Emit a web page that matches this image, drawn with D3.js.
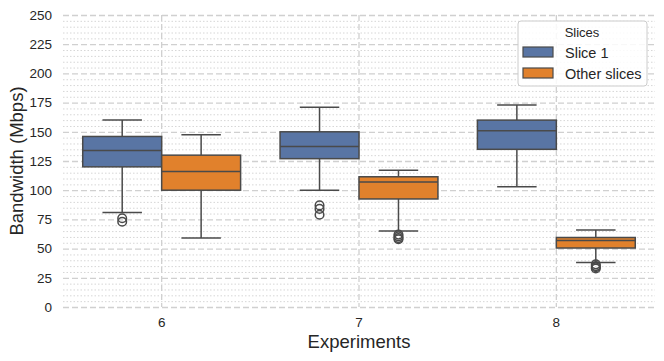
<!DOCTYPE html>
<html>
<head>
<meta charset="utf-8">
<script src="https://cdn.jsdelivr.net/npm/d3@7"></script>
<style>
  body { margin: 0; background: #fff; }
  text { font-family: "Liberation Sans", Arial, sans-serif; fill: #262626; }
</style>
</head>
<body>
<script>
// data
let experiments = ["6", "7", "8"];
let slices = ["Slice 1", "Other slices"];
let yTicks = [0, 25, 50, 75, 100, 125, 150, 175, 200, 225, 250];

// [whiskerLow, q1, median, q3, whiskerHigh] per experiment
let slice1Stats = [
    [81, 120, 134, 146, 160],
    [100, 127, 137.5, 150, 171],
    [103, 135, 151, 160, 173]
];
let otherStats = [
    [59, 100, 116, 130, 147.5],
    [65, 92.5, 107, 111.5, 117],
    [38, 50.5, 57, 59.5, 66]
];
let slice1Outliers = [[76, 73], [87, 84, 79], []];
let otherOutliers = [[], [62, 60.5, 59, 58], [36.5, 35, 34, 33]];

let colors = ["#5975a4", "#e1812c"];

let width = 664,
    height = 361,
    margin = {top: 15, right: 9, bottom: 54, left: 63};

const svg = d3.select("body")
    .append("svg")
    .attr("width", width)
    .attr("height", height);

const xScale = d3.scaleBand()
    .domain(experiments)
    .range([margin.left, width - margin.right]);

const hueScale = d3.scaleBand()
    .domain(slices)
    .range([0, xScale.bandwidth() * 0.8]);

const yScale = d3.scaleLinear()
    .domain([0, 250])
    .range([height - margin.bottom, margin.top]);

// minor grid (dotted)
svg.append("g")
    .selectAll("line")
    .data(d3.range(0, 251, 5).filter(v => v % 25 !== 0))
    .enter()
    .append("line")
    .attr("x1", margin.left)
    .attr("x2", width - margin.right)
    .attr("y1", d => yScale(d) + 0.5)
    .attr("y2", d => yScale(d) + 0.5)
    .attr("stroke", "#d6d6d6")
    .attr("stroke-width", 1)
    .attr("stroke-dasharray", "1.5,2");

// major grid (dashed)
svg.append("g")
    .selectAll("line")
    .data(yTicks)
    .enter()
    .append("line")
    .attr("x1", margin.left)
    .attr("x2", width - margin.right)
    .attr("y1", d => yScale(d) + 0.5)
    .attr("y2", d => yScale(d) + 0.5)
    .attr("stroke", "#d0d0d0")
    .attr("stroke-width", 1.3)
    .attr("stroke-dasharray", "6,3");

svg.append("g")
    .selectAll("line")
    .data(experiments)
    .enter()
    .append("line")
    .attr("x1", d => xScale(d) + xScale.bandwidth() / 2)
    .attr("x2", d => xScale(d) + xScale.bandwidth() / 2)
    .attr("y1", margin.top)
    .attr("y2", height - margin.bottom)
    .attr("stroke", "#d0d0d0")
    .attr("stroke-width", 1.3)
    .attr("stroke-dasharray", "6,3");

// boxes
const lineColor = "#4a4a4a";
[slice1Stats, otherStats].forEach((stats, s) => {
    const outliers = s === 0 ? slice1Outliers : otherOutliers;
    const g = svg.append("g");
    stats.forEach((st, i) => {
        const x0 = xScale(experiments[i]) + xScale.bandwidth() * 0.1 + hueScale(slices[s]);
        const bw = hueScale.bandwidth();
        const cx = x0 + bw / 2;
        // whiskers
        g.append("line")
            .attr("x1", cx).attr("x2", cx)
            .attr("y1", yScale(st[0])).attr("y2", yScale(st[1]))
            .attr("stroke", lineColor).attr("stroke-width", 1.5);
        g.append("line")
            .attr("x1", cx).attr("x2", cx)
            .attr("y1", yScale(st[3])).attr("y2", yScale(st[4]))
            .attr("stroke", lineColor).attr("stroke-width", 1.5);
        [st[0], st[4]].forEach(v => {
            g.append("line")
                .attr("x1", cx - bw / 4).attr("x2", cx + bw / 4)
                .attr("y1", yScale(v)).attr("y2", yScale(v))
                .attr("stroke", lineColor).attr("stroke-width", 1.5);
        });
        g.append("rect")
            .attr("x", x0)
            .attr("width", bw)
            .attr("y", yScale(st[3]))
            .attr("height", yScale(st[1]) - yScale(st[3]))
            .attr("fill", colors[s])
            .attr("stroke", lineColor)
            .attr("stroke-width", 1.5);
        g.append("line")
            .attr("x1", x0).attr("x2", x0 + bw)
            .attr("y1", yScale(st[2])).attr("y2", yScale(st[2]))
            .attr("stroke", lineColor).attr("stroke-width", 1.5);
        g.selectAll("circle.o" + i)
            .data(outliers[i])
            .enter()
            .append("circle")
            .attr("cx", cx)
            .attr("cy", d => yScale(d))
            .attr("r", 4.3)
            .attr("fill", "none")
            .attr("stroke", lineColor)
            .attr("stroke-width", 1.5);
    });
});

// Axis
const yAxis = d3.axisLeft(yScale)
    .tickValues(yTicks)
    .tickSize(0)
    .tickPadding(11);

svg.append("g")
    .attr("transform", "translate(" + margin.left + ",0)")
    .call(yAxis)
    .call(g => g.select(".domain").remove())
    .selectAll("text")
    .style("font-size", "13.5px")
    .style("fill", "#262626");

const xAxis = d3.axisBottom(xScale)
    .tickSize(0)
    .tickPadding(10);

svg.append("g")
    .attr("transform", "translate(0," + (height - margin.bottom) + ")")
    .call(xAxis)
    .call(g => g.select(".domain").remove())
    .selectAll("text")
    .style("font-size", "13.5px")
    .style("fill", "#262626");

svg.append("text")
    .attr("x", (margin.left + width - margin.right) / 2)
    .attr("y", 348)
    .attr("text-anchor", "middle")
    .style("font-size", "18.5px")
    .text("Experiments");

svg.append("text")
    .attr("transform", "translate(23," + (yScale(125)) + ") rotate(-90)")
    .attr("text-anchor", "middle")
    .style("font-size", "18.5px")
    .text("Bandwidth (Mbps)");

// legend
const legend = svg.append("g")
    .attr("transform", "translate(518,21)");

legend.append("rect")
    .attr("width", 129)
    .attr("height", 65)
    .attr("rx", 3)
    .attr("fill", "#fff")
    .attr("fill-opacity", 0.85)
    .attr("stroke", "#cccccc");

legend.append("text")
    .attr("x", 64)
    .attr("y", 16)
    .attr("text-anchor", "middle")
    .style("font-size", "13px")
    .text("Slices");

slices.forEach((s, i) => {
    legend.append("rect")
        .attr("x", 5)
        .attr("y", 26 + i * 21)
        .attr("width", 30)
        .attr("height", 10)
        .attr("fill", colors[i])
        .attr("stroke", lineColor)
        .attr("stroke-width", 1.2);
    legend.append("text")
        .attr("x", 47)
        .attr("y", 37 + i * 21)
        .style("font-size", "14.5px")
        .text(s);
});
</script>
</body>
</html>
